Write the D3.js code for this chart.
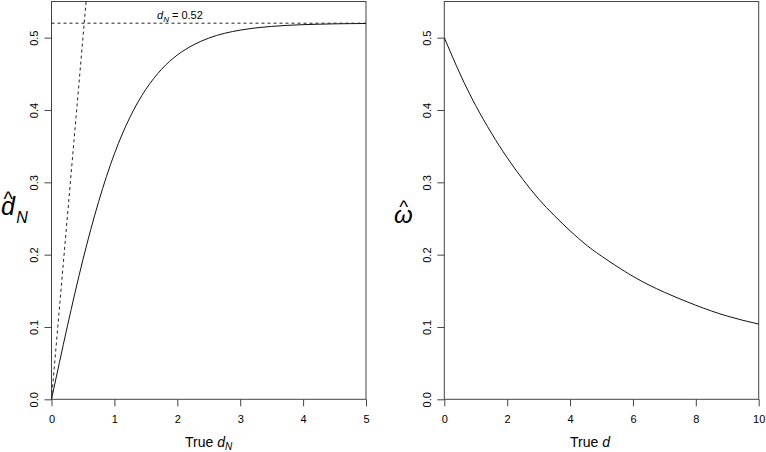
<!DOCTYPE html>
<html><head><meta charset="utf-8">
<script src="https://cdn.jsdelivr.net/npm/d3@7"></script>
<style>body{margin:0;background:#fff}svg{display:block}text{font-family:"Liberation Sans",Arial,Helvetica,sans-serif;fill:#000}</style>
</head><body><svg id="c" width="766" height="452"></svg>
<script>
// Left panel: estimated d_N hat vs true d_N
const dTrue = [0, 0.25, 0.5, 0.75, 1.0, 1.25, 1.5, 1.75, 2.0, 2.25, 2.5, 2.75, 3.0, 3.25, 3.5, 3.75, 4.0, 4.25, 4.5, 4.75, 5.0];
const dHat  = [0, 0.1001, 0.1931, 0.2735, 0.3394, 0.3905, 0.4286, 0.4563, 0.4760, 0.4897, 0.4994, 0.5060, 0.5104, 0.5135, 0.5156, 0.5170, 0.5180, 0.5186, 0.5191, 0.5194, 0.5196];
const dLimit = 0.52;
// Right panel: omega hat vs true d
const wTrue = [0, 0.5, 1, 1.5, 2, 2.5, 3, 3.5, 4, 4.5, 5, 6, 7, 8, 9, 10];
const wHat  = [0.5, 0.450, 0.406, 0.368, 0.334, 0.304, 0.277, 0.254, 0.233, 0.214, 0.198, 0.170, 0.148, 0.130, 0.115, 0.104];
const yTicks = [0, 0.1, 0.2, 0.3, 0.4, 0.5];
const xTicksL = [0, 1, 2, 3, 4, 5];
const xTicksR = [0, 2, 4, 6, 8, 10];

const svg = d3.select("#c");
const y = d3.scaleLinear([0, 0.55], [399.3, 1.5]);
const xL = d3.scaleLinear([0, 5], [51.5, 366]);
const xR = d3.scaleLinear([0, 10], [444.3, 758.7]);
const axisCol = "#444";

function panel(x, xt, xs, ys) {
  const g = svg.append("g");
  g.append("rect").attr("x", x.range()[0]).attr("y", y.range()[1])
    .attr("width", x.range()[1] - x.range()[0]).attr("height", y.range()[0] - y.range()[1])
    .attr("fill", "none").attr("stroke", axisCol).attr("stroke-width", 1);
  const ax = g.append("g").attr("transform", `translate(0,${y.range()[0]})`)
    .call(d3.axisBottom(x).tickValues(xt).tickSize(7).tickPadding(9).tickFormat(d3.format("d")));
  ax.select(".domain").remove();
  ax.selectAll("line").attr("stroke", axisCol);
  ax.selectAll("text").attr("font-size", 11).attr("fill", "#000");
  const ay = g.append("g").attr("transform", `translate(${x.range()[0]},0)`)
    .call(d3.axisLeft(y).tickValues(yTicks).tickSize(7).tickFormat(d3.format(".1f")));
  ay.select(".domain").remove();
  ay.selectAll("line").attr("stroke", axisCol);
  ay.selectAll("text").attr("font-size", 11).attr("fill", "#000")
    .attr("x", null).attr("text-anchor", "middle")
    .attr("transform", "translate(-17.5,0) rotate(-90)").attr("dy", "0.36em");
  g.append("path").datum(xs.map((d, i) => [d, ys[i]]))
    .attr("d", d3.line().x(d => x(d[0])).y(d => y(d[1])).curve(d3.curveNatural))
    .attr("fill", "none").attr("stroke", "#111").attr("stroke-width", 1);
  return g;
}

const gL = panel(xL, xTicksL, dTrue, dHat);
const gR = panel(xR, xTicksR, wTrue, wHat);

gL.append("line").attr("x1", xL(0)).attr("y1", y(dLimit)).attr("x2", xL(5)).attr("y2", y(dLimit))
  .attr("stroke", "#222").attr("stroke-dasharray", "3,3");
gL.append("line").attr("x1", xL(0)).attr("y1", y(0)).attr("x2", xL(0.55)).attr("y2", y(0.55))
  .attr("stroke", "#222").attr("stroke-dasharray", "3,3");

const ann = gL.append("text").attr("x", 157).attr("y", 19).attr("font-size", 11);
ann.append("tspan").attr("font-style", "italic").text("d");
ann.append("tspan").attr("font-style", "italic").attr("font-size", 8).attr("dy", 2.5).text("N");
ann.append("tspan").attr("dy", -2.5).text(" = " + dLimit.toFixed(2));

const tL = svg.append("text").attr("x", 185).attr("y", 446.5).attr("font-size", 14);
tL.append("tspan").text("True ");
tL.append("tspan").attr("font-style", "italic").text("d");
tL.append("tspan").attr("font-style", "italic").attr("font-size", 10).attr("dy", 3.5).text("N");
const tR = svg.append("text").attr("x", 570).attr("y", 446.5).attr("font-size", 14);
tR.append("tspan").text("True ");
tR.append("tspan").attr("font-style", "italic").text("d");

// y titles with hats, each as a single text element
const yl = svg.append("text").attr("x", 1).attr("y", 215).attr("font-style", "italic");
yl.append("tspan").attr("font-size", 25).text("d");
yl.append("tspan").attr("font-size", 20).attr("font-style", "normal").attr("dx", -11.4).attr("dy", -9).text("^");
yl.append("tspan").attr("font-size", 16).attr("dx", 3.3).attr("dy", 17).text("N");

const yr = svg.append("text").attr("x", 394).attr("y", 223).attr("font-style", "italic");
yr.append("tspan").attr("font-size", 24).text("\u03C9");
yr.append("tspan").attr("font-size", 19).attr("font-style", "normal").attr("dx", -13.5).attr("dy", -10).text("^");
</script></body></html>
